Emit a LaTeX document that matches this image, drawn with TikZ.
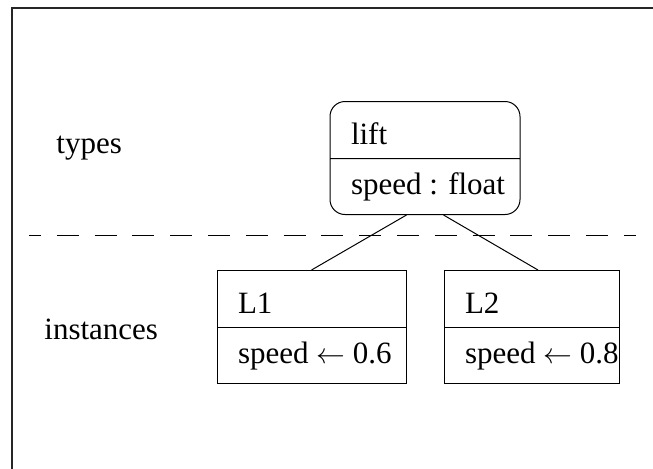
\documentclass[tikz,border=0pt]{standalone}
\usepackage{fontspec}
\setmainfont{Liberation Serif}
\usetikzlibrary{shapes.multipart}
\newcommand{\headstrut}{\rule[-7pt]{0pt}{28pt}}
\newcommand{\slotstrut}{\rule[-10pt]{0pt}{27.5pt}}
% width, name, attribute
\newcommand{\objtext}[3]{\makebox[#1][l]{\headstrut #2}\nodepart{two}\makebox[#1][l]{\slotstrut #3}}
\begin{document}
\begin{tikzpicture}[x=0.5pt,y=-0.5pt,
font=\fontsize{15.5pt}{18pt}\selectfont,
obj/.style={draw,line width=0.5pt,rectangle split,rectangle split parts=2,inner xsep=10.5pt,inner ysep=0pt,anchor=north},
cls/.style={obj,rounded corners=7.5pt},
lbl/.style={inner sep=0pt,anchor=base west},
lnk/.style={line width=0.5pt}
]
\useasboundingbox (0,0) rectangle (653,468);
%frame
\draw[line width=0.9pt,black!85] (12,475) -- (12,8) -- (660,8);
%separator
\coordinate (sepL) at (29,235);
\coordinate (sepR) at (636,235);
\draw[lnk,dash pattern=on 11pt off 7.9pt,dash phase=5pt] (sepL) -- (sepR);

\node[lbl] (types) at (56,153) {types};
\node[lbl] (inst) at (44,339) {instances};

\node[cls] (lift) at (425,101) {\objtext{74pt}{lift}{speed : float}};
\node[obj] (L1) at (311.5,270) {\objtext{73.5pt}{L1}{speed $\leftarrow$ 0.6}};
\node[obj] (L2) at (531.5,270) {\objtext{66.5pt}{L2}{speed $\leftarrow$ 0.8}};

\draw[lnk] ([xshift=-9.25pt]lift.south) -- (L1.north);
\draw[lnk] ([xshift=9.25pt]lift.south) -- ([xshift=3.25pt]L2.north);
\end{tikzpicture}
\end{document}
